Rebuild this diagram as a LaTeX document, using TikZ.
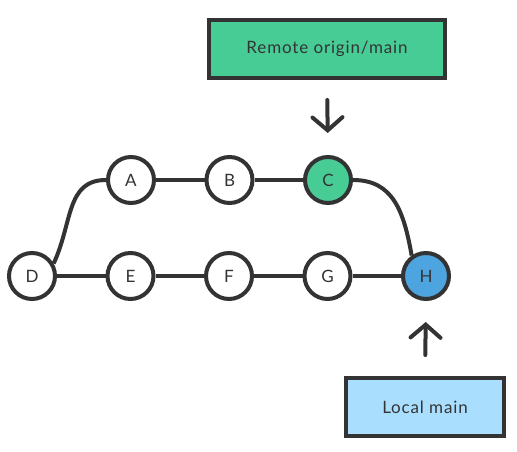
\documentclass[tikz,border=0pt]{standalone}
\usepackage{fontspec}
\setmainfont{Lato}[LetterSpace=5]
\usepackage{xcolor}
\usepackage{tikz}
\usetikzlibrary{positioning,arrows.meta}

\definecolor{ink}{HTML}{333333}
\definecolor{remotegreen}{HTML}{48CC96}
\definecolor{localblue}{HTML}{4EA4DE}
\definecolor{paleblue}{HTML}{AADEFF}

\begin{document}
\begin{tikzpicture}[x=1pt, y=1pt, node distance=48.5pt,
    commit/.style={circle, draw=ink, line width=4pt, fill=white, minimum size=46pt, inner sep=0pt, text=ink, font=\fontsize{17}{20}\selectfont},
    branch/.style={rectangle, draw=ink, line width=4pt, minimum height=58pt, text=ink, font=\fontsize{17}{20}\selectfont},
    link/.style={draw=ink, line width=4pt},
    pointer/.style={draw=ink, line width=4pt, line cap=round, -{Straight Barb[length=13pt, width=30pt, line cap=round]}}]
    \useasboundingbox (0,0) rectangle (517,452);

    % Commits
    \node[commit] at (32,176) (d) {D};
    \node[commit, right=of d] (e) {E};
    \node[commit, right=of e] (f) {F};
    \node[commit, right=of f] (g) {G};
    \node[commit, right=of g, fill=localblue] (h) {H};
    \node[commit] at (131,272) (a) {A};
    \node[commit, right=of a] (b) {B};
    \node[commit, right=of b, fill=remotegreen] (c) {C};

    % Branch labels
    \node[branch, fill=remotegreen, minimum width=236pt] at (327,403) (remote) {Remote origin/main};
    \node[branch, fill=paleblue, minimum width=158pt] at (425,45) (local) {Local main};

    % Links
    \draw[link] (d) -- (e);
    \draw[link] (e) -- (f);
    \draw[link] (f) -- (g);
    \draw[link] (g) -- (h);
    \draw[link] (a) -- (b);
    \draw[link] (b) -- (c);
    \draw[link] (d.30) .. controls +(65:45pt) and +(180:40pt) .. (a.west);
    \draw[link] (c.east) .. controls +(0:40pt) and +(100:45pt) .. (h.125);

    % Arrows
    \draw[pointer, shorten <=20pt, shorten >=22pt] (remote.south) -- (c.north);
    \draw[pointer, shorten <=21pt, shorten >=21pt] (local.north) -- (h.south);
\end{tikzpicture}
\end{document}
